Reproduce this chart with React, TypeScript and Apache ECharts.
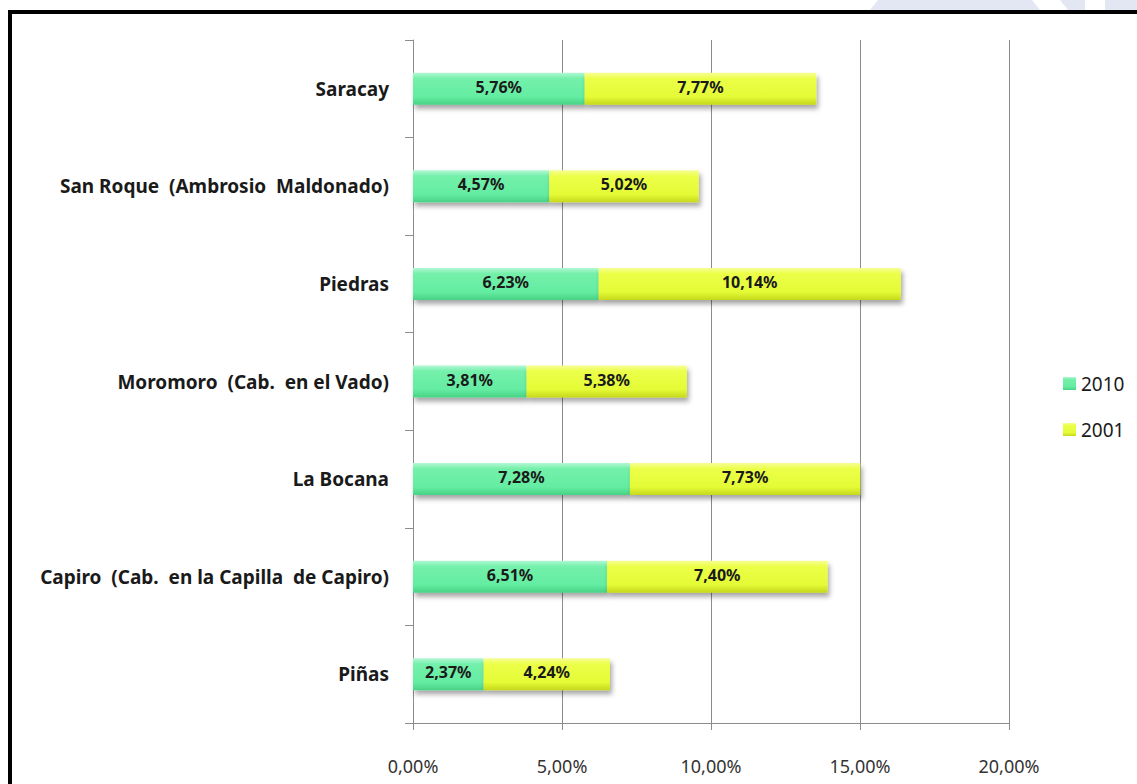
import React, { useEffect, useRef } from "react";
import * as echarts from "echarts";

const categories = [
  "Saracay",
  "San Roque  (Ambrosio  Maldonado)",
  "Piedras",
  "Moromoro  (Cab.  en el Vado)",
  "La Bocana",
  "Capiro  (Cab.  en la Capilla  de Capiro)",
  "Piñas",
];
const values2010 = [5.76, 4.57, 6.23, 3.81, 7.28, 6.51, 2.37];
const values2001 = [7.77, 5.02, 10.14, 5.38, 7.73, 7.4, 4.24];
const seriesNames = ["2010", "2001"];
const axisMin = 0;
const axisMax = 20;
const axisInterval = 5;

const fmt = (v: number) => v.toFixed(2).replace(".", ",") + "%";

const FONT = "'Noto Sans', 'Open Sans', sans-serif";

const greenGrad = new echarts.graphic.LinearGradient(0, 0, 0, 1, [
  { offset: 0, color: "#b2f8d4" },
  { offset: 0.18, color: "#74f0aa" },
  { offset: 0.75, color: "#64eda2" },
  { offset: 1, color: "#48d286" },
]);
const yellowGrad = new echarts.graphic.LinearGradient(0, 0, 0, 1, [
  { offset: 0, color: "#f6ff96" },
  { offset: 0.18, color: "#ecff48" },
  { offset: 0.75, color: "#e4fb36" },
  { offset: 1, color: "#c6d81c" },
]);

export default function App() {
  const ref = useRef<HTMLDivElement>(null);
  useEffect(() => {
    if (!ref.current) return;
    const chart = echarts.init(ref.current, null, { renderer: "svg" });
    const labelCfg = {
      show: true,
      position: "inside",
      formatter: (p: any) => fmt(p.value),
      color: "#1a1a1a",
      fontFamily: FONT,
      fontWeight: "bold",
      fontSize: 16,
      offset: [0, -2],
    };
    const shadow = {
      shadowColor: "rgba(0,0,0,0.35)",
      shadowBlur: 5,
      shadowOffsetX: 2,
      shadowOffsetY: 4,
    };
    chart.setOption({
      animation: false,
      backgroundColor: "#ffffff",
      graphic: [
        {
          type: "polygon",
          shape: { points: [[878, 0], [1032, 0], [1040, 10], [870, 10]] },
          style: { fill: "#e3e6f3" },
          z: 0,
        },
        {
          type: "polygon",
          shape: { points: [[1060, 0], [1085, 0], [1085, 10], [1068, 10]] },
          style: { fill: "#e3e6f3" },
          z: 0,
        },
        {
          type: "polygon",
          shape: { points: [[1105, 0], [1137, 0], [1137, 10], [1105, 10]] },
          style: { fill: "#e3e6f3" },
          z: 0,
        },
        {
          type: "rect",
          shape: { x: 8, y: 10, width: 1129, height: 4 },
          style: { fill: "#000000" },
          z: 10,
        },
        {
          type: "rect",
          shape: { x: 8, y: 10, width: 4, height: 774 },
          style: { fill: "#000000" },
          z: 10,
        },
      ],
      legend: {
        orient: "vertical",
        left: 1058,
        top: 369,
        itemWidth: 13,
        itemHeight: 13,
        itemGap: 27,
        icon: "rect",
        textStyle: { fontFamily: FONT, fontSize: 19, color: "#1a1a1a", padding: [0, 0, 0, 0] },
        data: seriesNames,
      },
      grid: { left: 413, right: 128, top: 40, bottom: 61, containLabel: false },
      xAxis: {
        type: "value",
        min: axisMin,
        max: axisMax,
        interval: axisInterval,
        axisLine: { show: true, lineStyle: { color: "#8c8c8c", width: 1 } },
        axisTick: { show: true, length: 7, lineStyle: { color: "#8c8c8c" } },
        splitLine: { show: true, lineStyle: { color: "#8c8c8c", width: 1 } },
        axisLabel: {
          formatter: (v: number) => fmt(v),
          margin: 34,
          fontFamily: FONT,
          fontSize: 18,
          color: "#333333",
        },
      },
      yAxis: {
        type: "category",
        inverse: true,
        data: categories,
        axisLine: { show: true, lineStyle: { color: "#8c8c8c", width: 1 } },
        axisTick: { show: true, length: 8, lineStyle: { color: "#8c8c8c" } },
        axisLabel: {
          margin: 24,
          fontFamily: FONT,
          fontWeight: "bold",
          fontSize: 19,
          color: "#1a1a1a",
        },
      },
      series: [
        {
          name: seriesNames[0],
          type: "bar",
          stack: "total",
          barWidth: 32,
          data: values2010,
          itemStyle: { color: greenGrad, ...shadow },
          label: labelCfg,
        },
        {
          name: seriesNames[1],
          type: "bar",
          stack: "total",
          barWidth: 32,
          data: values2001,
          itemStyle: { color: yellowGrad, ...shadow },
          label: labelCfg,
        },
      ],
    });
    return () => chart.dispose();
  }, []);
  return (
    <div
      ref={ref}
      style={{ position: "fixed", left: 0, top: 0, width: 1137, height: 784 }}
    />
  );
}
